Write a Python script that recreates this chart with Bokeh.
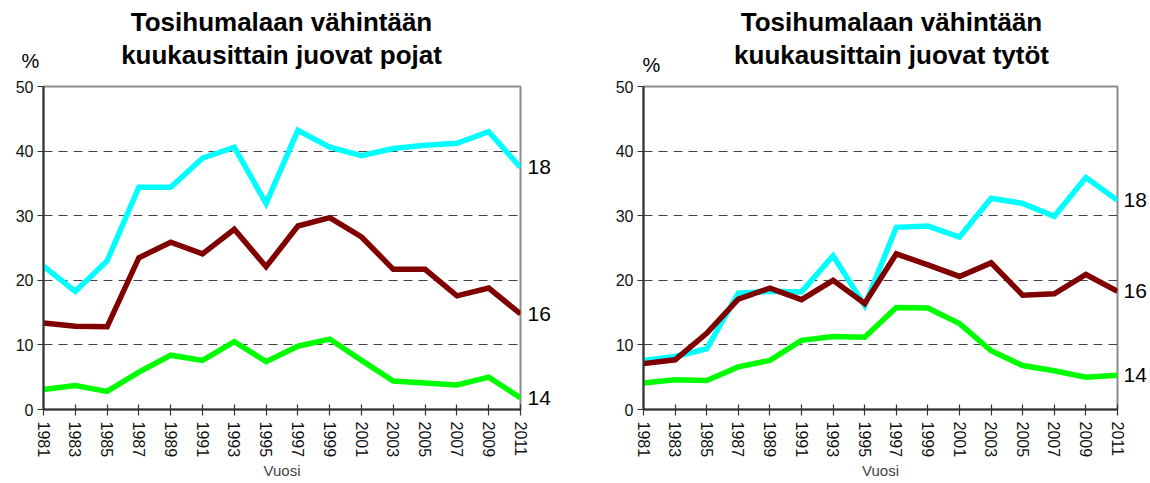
from bokeh.plotting import figure
from bokeh.models import FixedTicker, Range1d, LinearAxis
from bokeh.layouts import row, column
from bokeh.core.properties import value
from bokeh.embed import file_html
from bokeh.resources import INLINE

years = list(range(1981, 2012, 2))
year_labels = [str(y) for y in years]
y_ticks = [0, 10, 20, 30, 40, 50]

boys_18 = [22.2, 18.3, 23.0, 34.4, 34.4, 38.9, 40.6, 31.9, 43.2, 40.6, 39.3, 40.4, 40.9, 41.2, 43.0, 37.5]
boys_16 = [13.4, 12.9, 12.8, 23.5, 25.9, 24.1, 27.9, 22.1, 28.4, 29.7, 26.7, 21.7, 21.7, 17.6, 18.8, 14.8]
boys_14 = [3.1, 3.7, 2.8, 5.8, 8.4, 7.6, 10.5, 7.4, 9.8, 10.9, 7.6, 4.4, 4.1, 3.8, 5.0, 1.8]

girls_18 = [7.6, 8.2, 9.4, 18.0, 18.3, 18.2, 23.8, 16.1, 28.2, 28.4, 26.7, 32.7, 31.9, 29.9, 35.9, 32.4]
girls_16 = [7.1, 7.7, 11.8, 17.1, 18.8, 17.0, 20.0, 16.4, 24.1, 22.4, 20.6, 22.7, 17.7, 17.9, 20.9, 18.3]
girls_14 = [4.1, 4.6, 4.5, 6.6, 7.6, 10.7, 11.3, 11.2, 15.8, 15.7, 13.3, 9.1, 6.8, 6.0, 5.0, 5.3]

series_names = ["18", "16", "14"]
series_colors = ["#00FFFF", "#800000", "#00FF00"]

title_boys = ["Tosihumalaan vähintään", "kuukausittain juovat pojat"]
title_girls = ["Tosihumalaan vähintään", "kuukausittain juovat tytöt"]
unit_label = "%"

FONT = "Liberation Sans"
PAGE_W = 1150
HEADER_H = 76

# ---- header strip (titles and unit labels), pixel-like coordinates ----
header = figure(width=PAGE_W, height=HEADER_H, output_backend="svg",
                toolbar_location=None, x_axis_type=None, y_axis_type=None,
                title=None,
                x_range=Range1d(0, PAGE_W), y_range=Range1d(HEADER_H, 0),
                min_border=0)
header.outline_line_color = None
header.grid.grid_line_color = None
header.background_fill_color = "white"
header.border_fill_color = "white"

title_x = [281, 281, 891, 891]
title_y = [21, 54, 21, 54]
title_txt = [title_boys[0], title_boys[1], title_girls[0], title_girls[1]]
header.text(x=title_x, y=title_y, text=title_txt,
            text_font=value(FONT), text_font_style="bold",
            text_font_size="26px", text_align="center",
            text_baseline="alphabetic", text_color="#000000")
header.text(x=[30, 651], y=[60, 64], text=[unit_label, unit_label],
            text_font=value(FONT), text_font_size="20px",
            text_align="center", text_baseline="alphabetic",
            text_color="#000000")


def make_panel(series, w, h, bl, br, bt, bb, end_standoff):
    p = figure(width=w, height=h, output_backend="svg",
               toolbar_location=None, title=None,
               x_range=Range1d(1981, 2011), y_range=Range1d(0, 50),
               min_border_left=bl, min_border_right=br,
               min_border_top=bt, min_border_bottom=bb)
    p.background_fill_color = "white"
    p.border_fill_color = "white"
    p.outline_line_color = "#8c8c8c"
    p.outline_line_width = 2

    p.xgrid.grid_line_color = None
    p.ygrid.ticker = FixedTicker(ticks=[10, 20, 30, 40])
    p.ygrid.grid_line_color = "#444444"
    p.ygrid.grid_line_dash = "9 6"
    p.ygrid.grid_line_width = 1.2

    p.xaxis.ticker = FixedTicker(ticks=years)
    p.xaxis.major_label_overrides = {y: s for y, s in zip(years, year_labels)}
    p.xaxis.major_label_orientation = "vertical"
    p.xaxis.major_tick_in = 5
    p.xaxis.major_tick_out = 6
    p.xaxis.minor_tick_line_color = None
    p.xaxis.major_label_standoff = 6
    p.xaxis.axis_label = "Vuosi"
    p.xaxis.axis_label_text_font = FONT
    p.xaxis.axis_label_text_font_style = "normal"
    p.xaxis.axis_label_text_font_size = "15px"
    p.xaxis.axis_label_standoff = 2

    p.yaxis.ticker = FixedTicker(ticks=y_ticks)
    p.yaxis.major_tick_in = 0
    p.yaxis.major_tick_out = 6
    p.yaxis.minor_tick_line_color = None
    p.yaxis.major_label_standoff = 4

    for ax in (p.xaxis, p.yaxis):
        ax.axis_line_color = "#333333"
        ax.axis_line_width = 2
        ax.major_tick_line_color = "#333333"
        ax.major_tick_line_width = 1.2
        ax.major_label_text_font = FONT
        ax.major_label_text_font_size = "16px"
        ax.major_label_text_color = "#111111"

    for vals, color in zip(series, series_colors):
        p.line(years, vals, line_color=color, line_width=5.5,
               line_join="miter")

    # series names at the right end of each line (right axis)
    ends = [vals[-1] for vals in series]
    rax = LinearAxis(ticker=FixedTicker(ticks=ends),
                     major_label_overrides={v: n for v, n in zip(ends, series_names)})
    rax.axis_line_color = None
    rax.major_tick_line_color = None
    rax.minor_tick_line_color = None
    rax.major_tick_in = 0
    rax.major_tick_out = 0
    rax.major_label_standoff = end_standoff
    rax.major_label_text_font = FONT
    rax.major_label_text_font_size = "21px"
    rax.major_label_text_color = "#000000"
    p.add_layout(rax, "right")
    return p


p1 = make_panel([boys_18, boys_16, boys_14],
                w=583, h=483 - HEADER_H, bl=43, br=63, bt=84 - HEADER_H, bb=72,
                end_standoff=7)
p2 = make_panel([girls_18, girls_16, girls_14],
                w=567, h=483 - HEADER_H, bl=60, br=33, bt=86 - HEADER_H, bb=74,
                end_standoff=6)

layout = column(header, row(p1, p2))
open("out.html", "w").write(file_html(layout, INLINE))
